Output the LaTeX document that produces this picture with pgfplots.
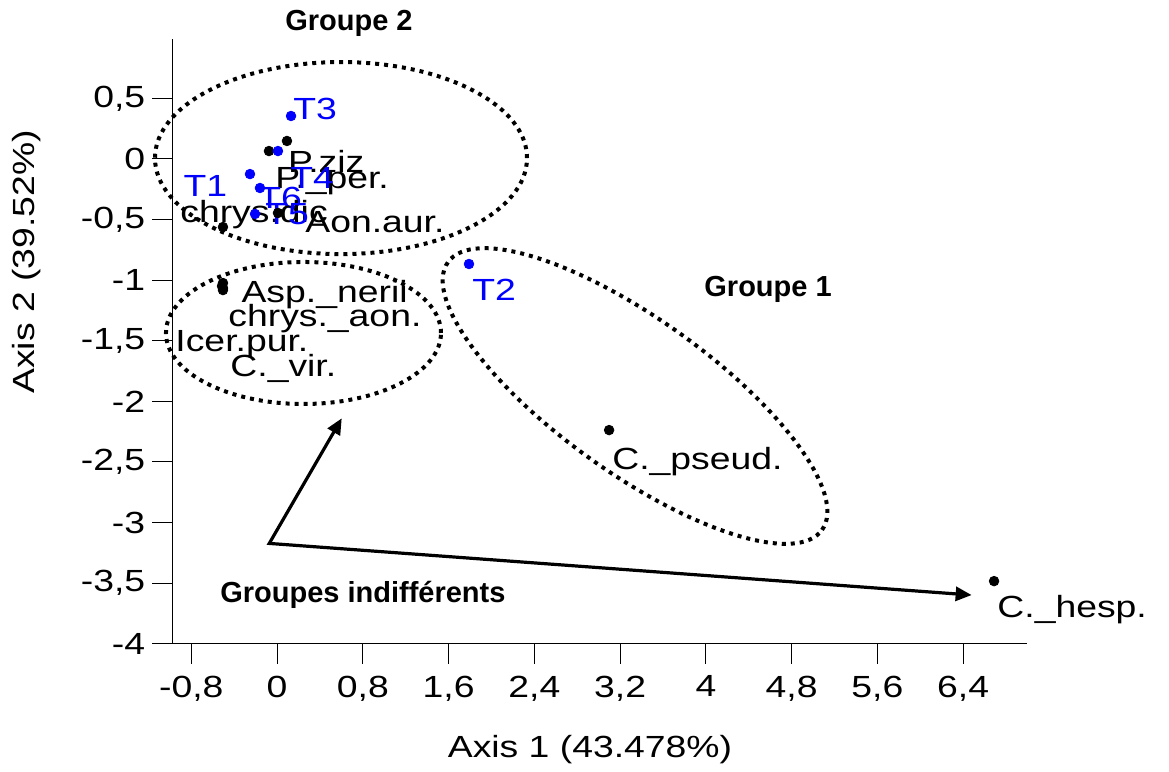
\documentclass[border=0pt]{standalone}
\usepackage{fontspec}
\setmainfont{Liberation Sans}
\newfontfamily\chartfont{Liberation Sans}[FakeStretch=1.22]
\usepackage{pgfplots}
\pgfplotsset{compat=1.18}
\usetikzlibrary{arrows.meta}
\newcommand\cf{\chartfont\fontsize{15.3}{18}\selectfont}
\newcommand\af{\fontsize{14.5}{17}\selectfont\bfseries}
\begin{document}
\begin{tikzpicture}
\begin{axis}[
  scale only axis, width=427.2pt, height=302.35pt,
  xmin=-0.978, xmax=6.993, ymin=-4, ymax=0.989,
  enlargelimits=false, clip=false,
  axis x line*=bottom, axis y line*=left,
  axis line style={line width=0.6pt},
  tick align=outside, major tick length=10pt,
  tick style={line width=0.5pt, black},
  xtick={-0.8,0,0.8,1.6,2.4,3.2,4,4.8,5.6,6.4},
  xticklabels={{-0,8},0,{0,8},{1,6},{2,4},{3,2},4,{4,8},{5,6},{6,4}},
  ytick={-4,-3.5,-3,-2.5,-2,-1.5,-1,-0.5,0,0.5},
  yticklabels={-4,{-3,5},-3,{-2,5},-2,{-1,5},-1,{-0,5},0,{0,5}},
  ticklabel style={font=\cf},
  xticklabel style={yshift=-2.5pt},
]
% species (black)
\addplot[only marks, mark=*, mark size=2.4pt, black] coordinates {
  (0.092,0.148) (-0.076,0.065) (-0.505,-0.562) (0.008,-0.446)
  (-0.505,-1.024) (-0.505,-1.065) (-0.514,-1.049) (-0.505,-1.082)
  (3.097,-2.237) (6.688,-3.483)
};
% stations (blue)
\addplot[only marks, mark=*, mark size=2.4pt, blue] coordinates {
  (-0.253,-0.125) (1.790,-0.867) (0.130,0.354) (0.008,0.065)
  (-0.206,-0.454) (-0.160,-0.240)
};
% point labels
\begin{scope}[every node/.style={anchor=base west, inner sep=0pt, font=\cf}]
\node[blue] at (axis cs:0.148,0.325) {T3};
\node at (axis cs:0.100,-0.116) {P.ziz};
\node at (axis cs:-0.020,-0.248) {P.\_per.};
\node[blue] at (axis cs:0.120,-0.240) {T4};
\node[blue] at (axis cs:-0.876,-0.314) {T1};
\node[blue] at (axis cs:-0.178,-0.405) {T6};
\node at (axis cs:-0.906,-0.521) {chrys.dic};
\node[blue] at (axis cs:-0.113,-0.545) {T5};
\node at (axis cs:0.260,-0.611) {Aon.aur.};
\node at (axis cs:-0.335,-1.181) {Asp.\_nerii};
\node at (axis cs:-0.458,-1.379) {chrys.\_aon.};
\node at (axis cs:-0.952,-1.585) {Icer.pur.};
\node at (axis cs:-0.439,-1.791) {C.\_vir.};
\node[blue] at (axis cs:1.818,-1.164) {T2};
\node at (axis cs:3.124,-2.559) {C.\_pseud.};
\node at (axis cs:6.716,-3.780) {C.\_hesp.};
\end{scope}
% axis titles
\node[font=\cf] at (axis cs:2.919,-4.875) {Axis 1 (43.478\%)};
\node[font=\cf, rotate=90] at (axis cs:-2.333,-0.851) {Axis 2 (39.52\%)};
% group titles
\node[font=\af] at (axis cs:0.67,1.12) {Groupe 2};
\node[font=\af] at (axis cs:4.58,-1.08) {Groupe 1};
\node[font=\af] at (axis cs:0.80,-3.60) {Groupes indifférents};
% extension of x axis line to the left
\draw[line width=0.6pt] (axis cs:-1.164,-4) -- (axis cs:-0.978,-4);
% helper coordinates
\coordinate (g2) at (axis cs:0.596,0.007);
\coordinate (gi) at (axis cs:0.246,-1.436);
\coordinate (g1) at (axis cs:3.339,-1.956);
\coordinate (s) at (axis cs:-0.073,-3.172);
\coordinate (t1) at (axis cs:0.603,-2.140);
\coordinate (t2) at (axis cs:6.479,-3.598);
\coordinate (bl) at (axis cs:-2.585,-5.050);
\coordinate (tr) at (axis cs:8.320,1.311);
\end{axis}
\tikzset{dots/.style={line width=2pt, dash pattern=on 2pt off 2.5pt}}
\draw[dots] (g2) ellipse [x radius=93pt, y radius=48pt];
\draw[dots] (gi) ellipse [x radius=68.75pt, y radius=35.5pt];
\draw[dots, rotate around={-35.6:(g1)}] (g1) ellipse [x radius=115pt, y radius=38.5pt];
\draw[line width=1.6pt, line join=miter, {Triangle[length=8pt,width=7pt]}-{Triangle[length=8pt,width=7pt]}] (t1) -- (s) -- (t2);
\pgfresetboundingbox
\path[use as bounding box] (bl) rectangle (tr);
\end{tikzpicture}
\end{document}
